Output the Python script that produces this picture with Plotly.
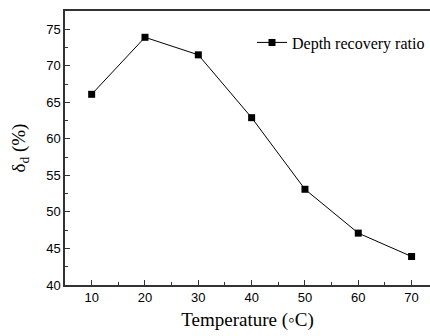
import plotly.graph_objects as go

temperature = [10, 20, 30, 40, 50, 60, 70]
depth_recovery = [66.1, 73.9, 71.5, 62.9, 53.1, 47.1, 43.9]
series_name = "Depth recovery ratio"

fig = go.Figure()
fig.add_trace(go.Scatter(
    x=temperature, y=depth_recovery, mode="lines+markers", name=series_name,
    line=dict(color="black", width=1),
    marker=dict(symbol="square", size=7, color="black"),
))

axis_common = dict(
    showline=True, linecolor="#333333", linewidth=1.5,
    ticks="inside", ticklen=5, tickwidth=1.2, tickcolor="#333333",
    showgrid=False, zeroline=False,
    tickfont=dict(family="Liberation Sans, Arial", size=13, color="black"),
)

fig.update_layout(
    width=430, height=336,
    margin=dict(l=65, r=0, t=11, b=51),
    paper_bgcolor="white", plot_bgcolor="white",
    showlegend=True,
    legend=dict(x=1.0, y=0.885, xanchor="right", yanchor="middle",
                font=dict(family="Liberation Serif, Times New Roman", size=16, color="black"),
                bgcolor="rgba(0,0,0,0)", borderwidth=0),
    xaxis=dict(range=[5, 73.45], dtick=10, tick0=10, mirror=True,
               minor=dict(ticks="inside", ticklen=3, dtick=5, tick0=5, tickcolor="#333333"),
               title=dict(text="Temperature (◦C)", standoff=8,
                          font=dict(family="Liberation Serif, Times New Roman", size=19, color="black")),
               **axis_common),
    yaxis=dict(range=[40, 77.5], dtick=5, tick0=40,
               minor=dict(ticks="inside", ticklen=3, dtick=2.5, tick0=40, tickcolor="#333333"),
               title=dict(text="δ<sub>d</sub> (%)", standoff=16,
                          font=dict(family="Liberation Serif, Times New Roman", size=19, color="black")),
               **axis_common),
)

fig.write_html("out.html")
